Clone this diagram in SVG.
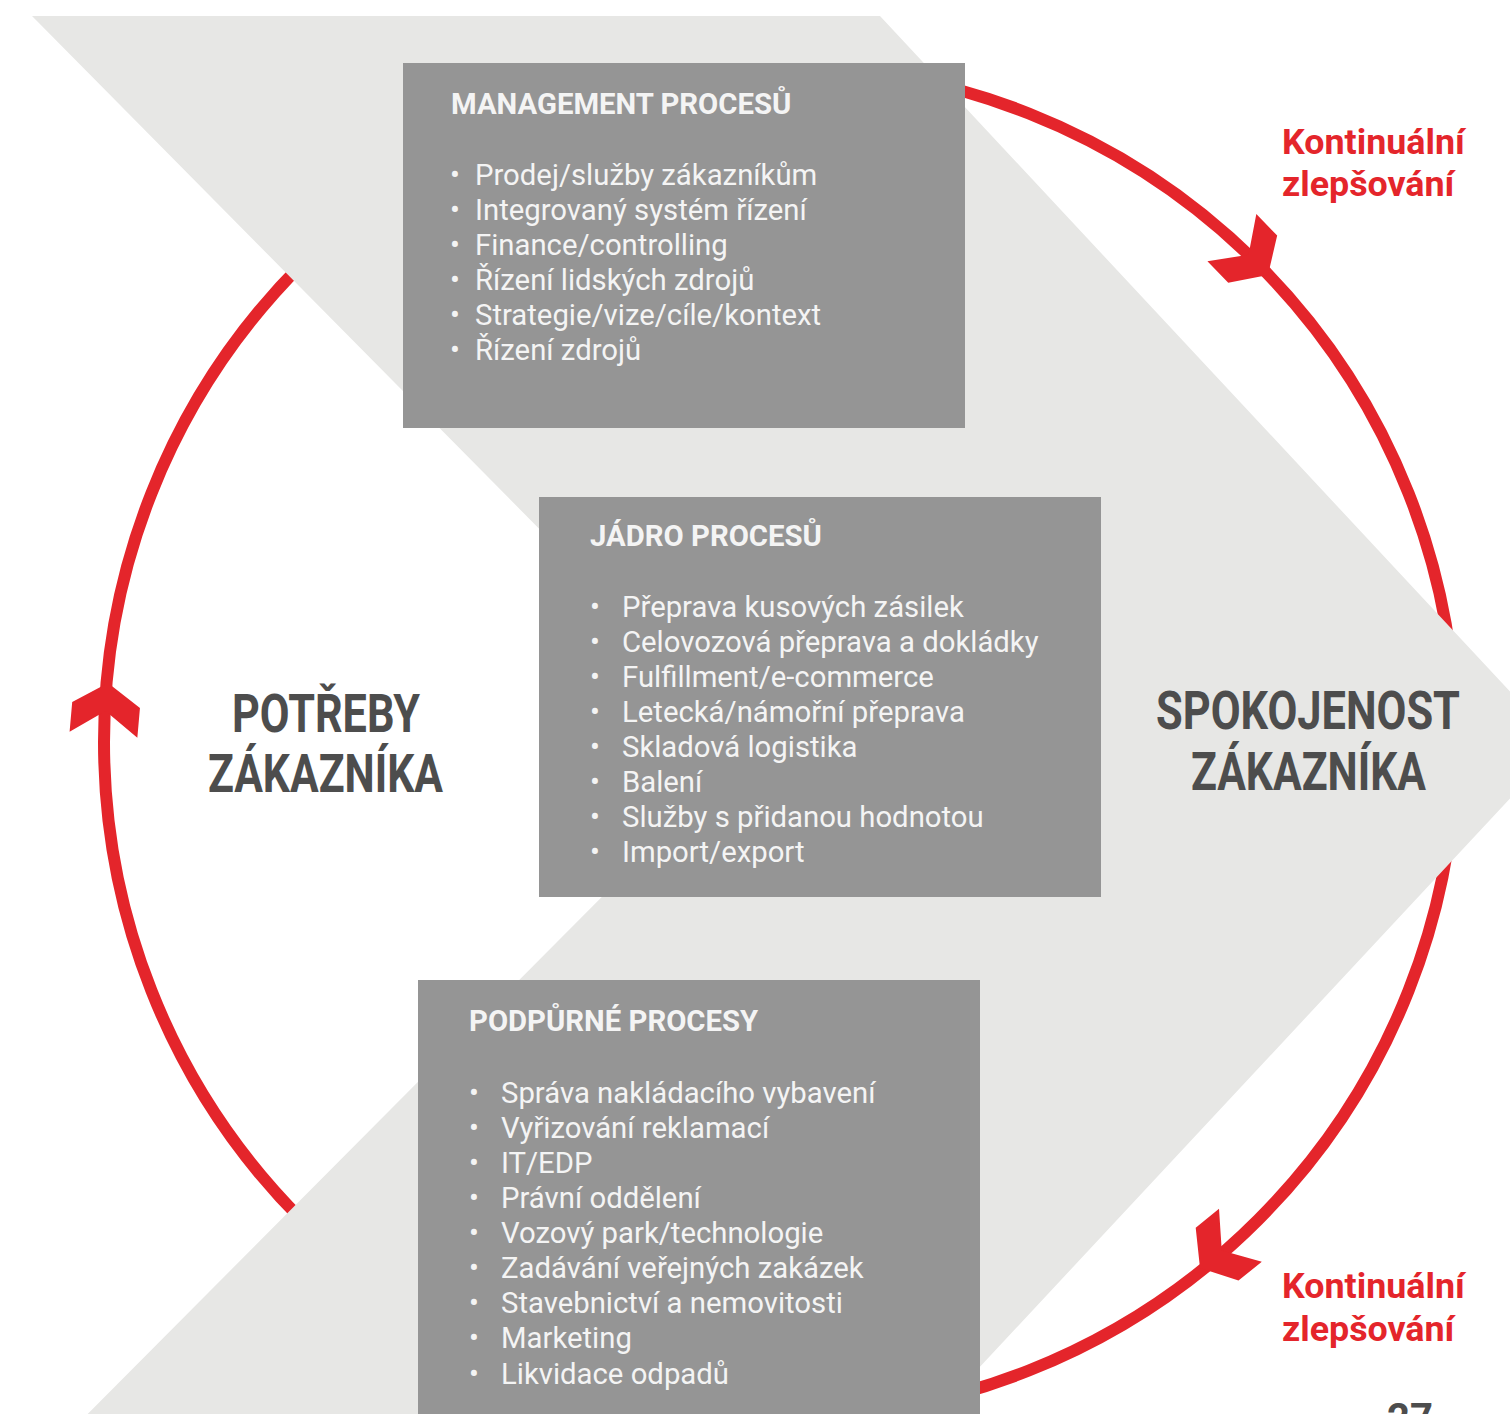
<svg xmlns="http://www.w3.org/2000/svg" width="1510" height="1414" viewBox="0 0 1510 1414">
<defs>
<style>
.box{fill:#959595}
.ttl{font-family:Roboto,"Liberation Sans",sans-serif;font-weight:700;font-size:29.3px;fill:#F4F4F4}
.itm{font-family:Roboto,"Liberation Sans",sans-serif;font-weight:400;font-size:29.3px;fill:#F4F4F4}
.big{font-family:Roboto,"Liberation Sans",sans-serif;font-weight:700;font-size:53px;fill:#4D4D4D}
.red{font-family:Roboto,"Liberation Sans",sans-serif;font-weight:700;font-size:35.8px;fill:#E4252B}
.ring{fill:none;stroke:#E4252B;stroke-width:12}
.head{fill:#E4252B}
</style>
<path id="ah" d="M0,0 L-22,34 L-52,34 L-28,0 L-52,-34 L-22,-34 Z"/>
</defs>
<rect width="1510" height="1414" fill="#FFFFFF"/>
<g id="connectors">
<circle class="ring" cx="780" cy="742" r="676"/>
<use href="#ah" class="head" transform="translate(1268,275) rotate(46)"/>
<use href="#ah" class="head" transform="translate(1200,1268) rotate(141)"/>
<use href="#ah" class="head" transform="translate(108,683) rotate(-85)"/>
</g>
<g id="chevron">
<polygon points="32,16 880,16 1560,745 880,1474 28,1474 753,745" fill="#E7E7E5"/>
</g>
<g id="node-management">
<rect class="box" x="403" y="63" width="562" height="365"/>
<text class="ttl" x="451" y="114">MANAGEMENT PROCESŮ</text>
<g class="itm">
<text x="450" y="185">•</text><text x="475" y="185">Prodej/služby zákazníkům</text>
<text x="450" y="220">•</text><text x="475" y="220">Integrovaný systém řízení</text>
<text x="450" y="255">•</text><text x="475" y="255">Finance/controlling</text>
<text x="450" y="290">•</text><text x="475" y="290">Řízení lidských zdrojů</text>
<text x="450" y="325">•</text><text x="475" y="325">Strategie/vize/cíle/kontext</text>
<text x="450" y="360">•</text><text x="475" y="360">Řízení zdrojů</text>
</g>
</g>
<g id="node-jadro">
<rect class="box" x="539" y="497" width="562" height="400"/>
<text class="ttl" x="590" y="546">JÁDRO PROCESŮ</text>
<g class="itm">
<text x="590" y="617">•</text><text x="622" y="617">Přeprava kusových zásilek</text>
<text x="590" y="652">•</text><text x="622" y="652">Celovozová přeprava a dokládky</text>
<text x="590" y="687">•</text><text x="622" y="687">Fulfillment/e-commerce</text>
<text x="590" y="722">•</text><text x="622" y="722">Letecká/námořní přeprava</text>
<text x="590" y="757">•</text><text x="622" y="757">Skladová logistika</text>
<text x="590" y="792">•</text><text x="622" y="792">Balení</text>
<text x="590" y="827">•</text><text x="622" y="827">Služby s přidanou hodnotou</text>
<text x="590" y="862">•</text><text x="622" y="862">Import/export</text>
</g>
</g>
<g id="node-podpurne">
<rect class="box" x="418" y="980" width="562" height="440"/>
<text class="ttl" x="469" y="1031">PODPŮRNÉ PROCESY</text>
<g class="itm">
<text x="469" y="1103">•</text><text x="501" y="1103">Správa nakládacího vybavení</text>
<text x="469" y="1138">•</text><text x="501" y="1138">Vyřizování reklamací</text>
<text x="469" y="1173">•</text><text x="501" y="1173">IT/EDP</text>
<text x="469" y="1208">•</text><text x="501" y="1208">Právní oddělení</text>
<text x="469" y="1243">•</text><text x="501" y="1243">Vozový park/technologie</text>
<text x="469" y="1278">•</text><text x="501" y="1278">Zadávání veřejných zakázek</text>
<text x="469" y="1313">•</text><text x="501" y="1313">Stavebnictví a nemovitosti</text>
<text x="469" y="1348">•</text><text x="501" y="1348">Marketing</text>
<text x="469" y="1384">•</text><text x="501" y="1384">Likvidace odpadů</text>
</g>
</g>
<g id="node-potreby">
<text class="big" x="232" y="732" textLength="188" lengthAdjust="spacingAndGlyphs">POTŘEBY</text>
<text class="big" x="208" y="792" textLength="235" lengthAdjust="spacingAndGlyphs">ZÁKAZNÍKA</text>
</g>
<g id="node-spokojenost">
<text class="big" x="1156" y="729" textLength="304" lengthAdjust="spacingAndGlyphs">SPOKOJENOST</text>
<text class="big" x="1191" y="790" textLength="235" lengthAdjust="spacingAndGlyphs">ZÁKAZNÍKA</text>
</g>
<g id="label-top">
<text class="red" x="1282" y="154">Kontinuální</text>
<text class="red" x="1282" y="196">zlepšování</text>
</g>
<g id="label-bottom">
<text class="red" x="1282" y="1298">Kontinuální</text>
<text class="red" x="1282" y="1341">zlepšování</text>
</g>
<text x="1387" y="1432" font-family="Roboto,'Liberation Sans',sans-serif" font-weight="700" font-size="40" fill="#4D4D4D">27</text>
</svg>
